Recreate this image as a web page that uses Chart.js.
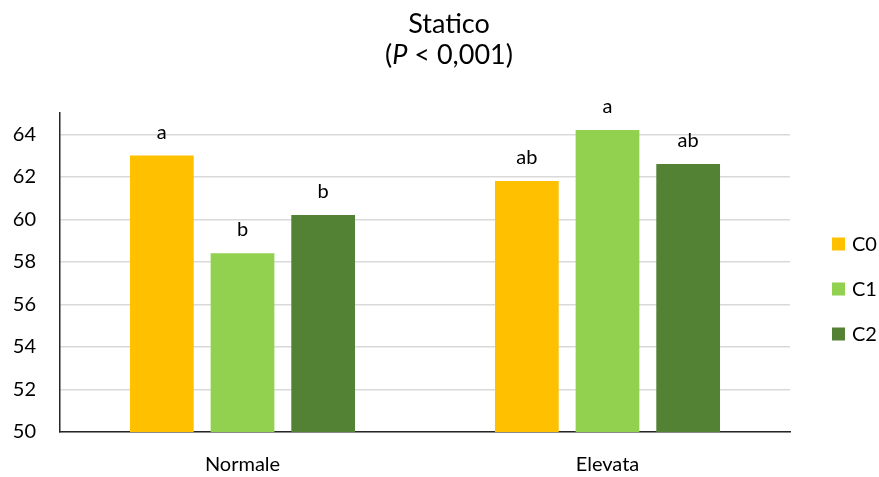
<!DOCTYPE html>
<html>
<head>
<meta charset="utf-8">
<script src="https://cdn.jsdelivr.net/npm/chart.js@4/dist/chart.umd.min.js"></script>
<style>
  html, body { margin: 0; padding: 0; background: #fff; }
  #wrap { width: 879px; height: 477px; }
</style>
</head>
<body>
<div id="wrap"><canvas id="myChart" width="879" height="477"></canvas></div>
<script>
const categories = ['Normale', 'Elevata']
const seriesNames = ['C0', 'C1', 'C2']
const c0Values = [63.0, 61.8]
const c1Values = [58.4, 64.2]
const c2Values = [60.2, 62.6]
const c0Letters = ['a', 'ab']
const c1Letters = ['b', 'a']
const c2Letters = ['b', 'ab']
const seriesColors = ['#ffc000', '#92d050', '#548235']

const FONT = 'Lato, "Open Sans", sans-serif'

// title with italic P, significance letters over the bars and a boxed legend on the right
const decorations = {
    id: 'decorations',
    afterDraw(chart) {
        const ctx = chart.ctx
        const area = chart.chartArea
        ctx.save()
        ctx.fillStyle = '#000'

        // title
        const cx = 449
        ctx.font = '27px ' + FONT
        ctx.textAlign = 'center'
        ctx.textBaseline = 'alphabetic'
        ctx.fillText('Statico', cx, 33)

        const parts = [
            { t: '(', f: '27px ' + FONT },
            { t: 'P', f: 'italic 27px ' + FONT },
            { t: ' < 0,001)', f: '27px ' + FONT }
        ]
        let total = 0
        parts.forEach(p => { ctx.font = p.f; p.w = ctx.measureText(p.t).width; total += p.w })
        let x = cx - total / 2
        ctx.textAlign = 'left'
        parts.forEach(p => { ctx.font = p.f; ctx.fillText(p.t, x, 64); x += p.w })

        // letters above bars
        ctx.font = '20px ' + FONT
        ctx.textAlign = 'center'
        chart.data.datasets.forEach((ds, i) => {
            chart.getDatasetMeta(i).data.forEach((bar, j) => {
                ctx.fillText(ds.letters[j], bar.x, bar.y - 17)
            })
        })

        // legend
        const lx = area.right + 42
        const ly = 244
        ctx.textAlign = 'left'
        ctx.textBaseline = 'middle'
        chart.data.datasets.forEach((ds, i) => {
            const y = ly + i * 45
            ctx.fillStyle = ds.backgroundColor
            ctx.fillRect(lx, y - 6.5, 13, 13)
            ctx.fillStyle = '#000'
            ctx.fillText(ds.label, lx + 20, y + 1)
        })
        ctx.restore()
    }
}

const ctx = document.getElementById('myChart')

new Chart(ctx, {
    type: 'bar',
    data: {
        labels: categories,
        datasets: [
            { label: seriesNames[0], data: c0Values, letters: c0Letters, backgroundColor: seriesColors[0] },
            { label: seriesNames[1], data: c1Values, letters: c1Letters, backgroundColor: seriesColors[1] },
            { label: seriesNames[2], data: c2Values, letters: c2Letters, backgroundColor: seriesColors[2] }
        ]
    },
    options: {
        responsive: false,
        animation: false,
        categoryPercentage: 0.663,
        barPercentage: 0.79,
        layout: { padding: { top: 113, right: 89, bottom: 0, left: 0 } },
        plugins: {
            legend: { display: false },
            title: { display: false },
            tooltip: { enabled: false }
        },
        scales: {
            x: {
                afterFit(scale) { scale.height = 45 },
                grid: { display: false, drawTicks: false },
                border: { color: '#262626', width: 1.5 },
                ticks: { color: '#000', padding: 21, font: { family: FONT, size: 20 } }
            },
            y: {
                min: 50,
                max: 65,
                afterFit(scale) {
                    scale.width = 60
                    scale.paddingTop = 0
                    scale.paddingBottom = 0
                },
                grid: { color: '#d9d9d9', lineWidth: 1.5, drawTicks: false },
                border: { color: '#262626', width: 1.5 },
                ticks: {
                    stepSize: 2,
                    includeBounds: false,
                    color: '#000',
                    padding: 24,
                    font: { family: FONT, size: 20 }
                }
            }
        }
    },
    plugins: [decorations]
})
</script>
</body>
</html>
